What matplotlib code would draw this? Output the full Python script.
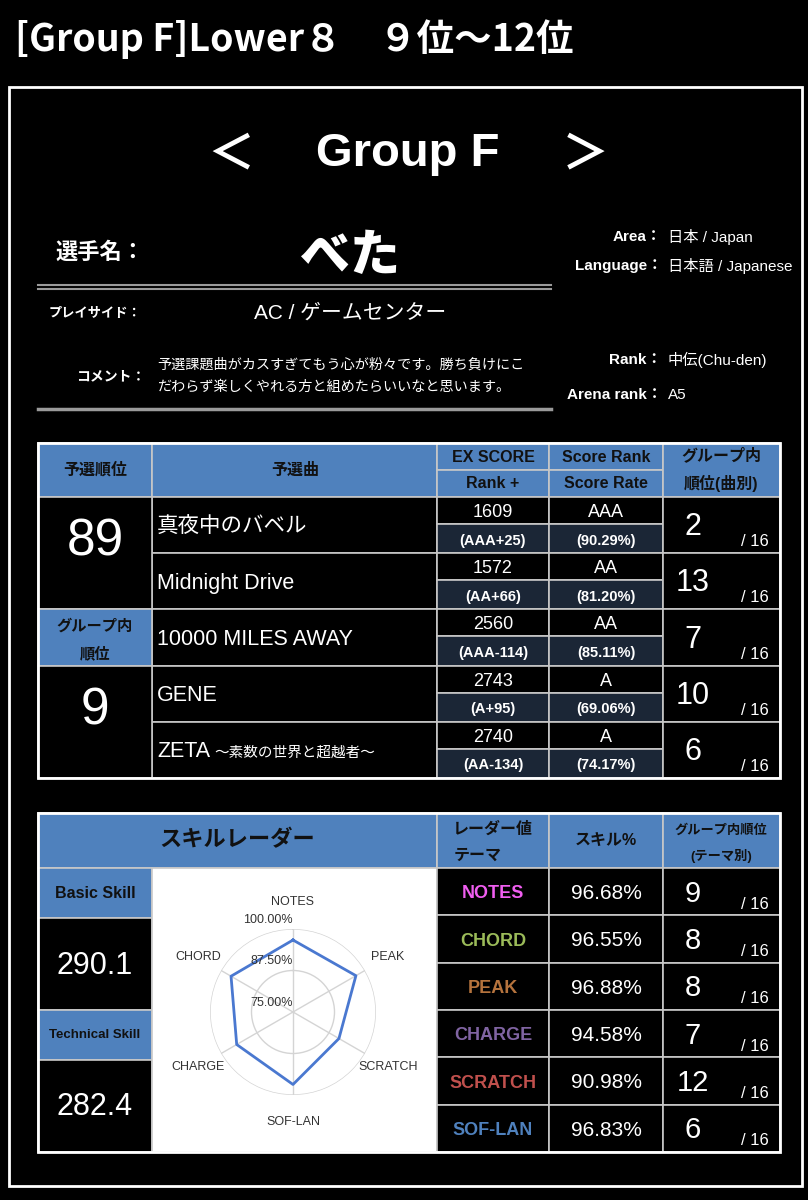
import matplotlib.pyplot as plt
from matplotlib.patches import Rectangle
import numpy as np

plt.rcParams['font.family'] = ['Liberation Sans', 'Noto Sans CJK JP', 'DejaVu Sans']

# ---- data ----
title_text = "[Group F]Lower８　９位～12位"
group_name = "Group F"
player = "べた"
play_side = "AC / ゲームセンター"
comment_lines = ["予選課題曲がカスすぎてもう心が粉々です。勝ち負けにこ",
                 "だわらず楽しくやれる方と組めたらいいなと思います。"]
info_labels = ["Area：", "Language：", "Rank：", "Arena rank："]
info_values = ["日本 / Japan", "日本語 / Japanese", "中伝(Chu-den)", "A5"]

prelim_rank = 89
group_rank = 9
group_size = 16

songs = ["真夜中のバベル", "Midnight Drive", "10000 MILES AWAY", "GENE", "ZETA"]
song_subtitles = ["", "", "", "", "～素数の世界と超越者～"]
ex_scores = [1609, 1572, 2560, 2743, 2740]
rank_plus = ["AAA+25", "AA+66", "AAA-114", "A+95", "AA-134"]
score_ranks = ["AAA", "AA", "AA", "A", "A"]
score_rates = [90.29, 81.20, 85.11, 69.06, 74.17]
song_group_ranks = [2, 13, 7, 10, 6]

basic_skill = 290.1
technical_skill = 282.4
themes = ["NOTES", "CHORD", "PEAK", "CHARGE", "SCRATCH", "SOF-LAN"]
skill_pct = [96.68, 96.55, 96.88, 94.58, 90.98, 96.83]
theme_ranks = [9, 8, 8, 7, 12, 6]
theme_colors = ["#f05ef0", "#9bbb59", "#b5733d", "#8064a2", "#c0504d", "#4f81bd"]
radar_order = ["NOTES", "PEAK", "SCRATCH", "SOF-LAN", "CHARGE", "CHORD"]
radar_ticks = [75.0, 87.5, 100.0]

# ---- canvas ----
W, H = 808, 1200
fig = plt.figure(figsize=(W / 100, H / 100), dpi=100, facecolor="black")
ax = fig.add_axes([0, 0, 1, 1])
ax.set_xlim(0, W)
ax.set_ylim(H, 0)
ax.axis("off")
ax.set_facecolor("black")

BLUE = "#4f81bd"
NAVY = "#1b2636"
GRID = "#c8c8c8"
DARK = "#111111"
JP = ["Noto Sans CJK JP"]


def cell(x0, y0, x1, y1, fc, ec=GRID, lw=1.2):
    ax.add_patch(Rectangle((x0, y0), x1 - x0, y1 - y0, facecolor=fc,
                           edgecolor=ec, linewidth=lw))


def txt(x, y, s, size, color="white", weight="normal", ha="center", **kw):
    ax.text(x, y + 2, s, fontsize=size, color=color, fontweight=weight,
            ha=ha, va="center", **kw)


# title and frame
txt(15, 37, title_text, 27, weight="bold", ha="left", family=JP)
ax.add_patch(Rectangle((9, 87), 793, 1099, facecolor="none",
                       edgecolor="white", linewidth=2))
txt(231, 152, "＜", 34, weight="bold", family=JP)
txt(408, 152, group_name, 34, weight="bold")
txt(585, 152, "＞", 34, weight="bold", family=JP)

# player block
txt(100, 250, "選手名：", 16, weight="bold", family=JP)
txt(350, 254, player, 36, weight="heavy", family=JP)
ax.plot([38, 551], [285, 285], color="#9a9a9a", lw=1.5)
ax.plot([38, 551], [289, 289], color="#9a9a9a", lw=1.5)
txt(95, 311, "プレイサイド：", 9.5, weight="bold", family=JP)
txt(350, 311, play_side, 15)
txt(145, 374, "コメント：", 10, weight="bold", ha="right", family=JP)
for i, line in enumerate(comment_lines):
    txt(157, 363 + i * 22, line, 10.2, ha="left", family=JP)
ax.plot([38, 551], [409, 409], color="#9a9a9a", lw=2.5)

for lab, val, y in zip(info_labels, info_values, [235, 264, 358, 393]):
    txt(662, y, lab, 11, weight="bold", ha="right")
    txt(668, y, val, 11, ha="left")

# ---- table 1 : qualifying songs ----
cx = [38, 152, 437, 549, 663, 780]
top, hdr_mid, hdr_bot = 443, 470, 497
row_h = (778 - hdr_bot) / len(songs)

cell(cx[0], top, cx[1], hdr_bot, BLUE)
cell(cx[1], top, cx[2], hdr_bot, BLUE)
for c in (2, 3):
    cell(cx[c], top, cx[c + 1], hdr_mid, BLUE)
    cell(cx[c], hdr_mid, cx[c + 1], hdr_bot, BLUE)
cell(cx[4], top, cx[5], hdr_bot, BLUE)
txt(95, 468, "予選順位", 11.5, DARK, "bold")
txt(295, 468, "予選曲", 11.5, DARK, "bold")
txt(493, 455, "EX SCORE", 11.5, DARK, "bold")
txt(493, 482, "Rank +", 11.5, DARK, "bold")
txt(606, 455, "Score Rank", 11.5, DARK, "bold")
txt(606, 482, "Score Rate", 11.5, DARK, "bold")
txt(721, 453, "グループ内", 11.5, DARK, "bold")
txt(721, 481, "順位(曲別)", 11.5, DARK, "bold")

for i, song in enumerate(songs):
    y0 = hdr_bot + i * row_h
    y1 = y0 + row_h
    ym = y0 + row_h * 0.48
    cell(cx[1], y0, cx[2], y1, "black")
    for c in (2, 3):
        cell(cx[c], y0, cx[c + 1], ym, "black")
        cell(cx[c], ym, cx[c + 1], y1, NAVY)
    cell(cx[4], y0, cx[5], y1, "black")
    txt(157, y0 + row_h * 0.5, song, 15.5, ha="left")
    if song_subtitles[i]:
        txt(214, y0 + row_h * 0.52, song_subtitles[i], 10.5, ha="left",
            family=JP)
    txt(493, (y0 + ym) / 2, str(ex_scores[i]), 13)
    txt(493, (ym + y1) / 2, "(%s)" % rank_plus[i], 10.5, weight="bold")
    txt(606, (y0 + ym) / 2, score_ranks[i], 13)
    txt(606, (ym + y1) / 2, "(%.2f%%)" % score_rates[i], 10.5, weight="bold")
    txt(693, y0 + row_h * 0.5, str(song_group_ranks[i]), 22)
    txt(755, y0 + row_h * 0.76, "/ %d" % group_size, 12)

r_mid = hdr_bot + 2 * row_h
cell(cx[0], hdr_bot, cx[1], r_mid, "black")
cell(cx[0], r_mid, cx[1], r_mid + row_h, BLUE)
cell(cx[0], r_mid + row_h, cx[1], 778, "black")
txt(95, 540, str(prelim_rank), 37)
txt(95, r_mid + 15, "グループ内", 11, DARK, "bold")
txt(95, r_mid + 42, "順位", 11, DARK, "bold")
txt(95, 709, str(group_rank), 37)
ax.add_patch(Rectangle((cx[0], top), cx[5] - cx[0], 778 - top,
                       facecolor="none", edgecolor="white", linewidth=2))

# ---- table 2 : skill radar ----
t2_top, t2_hdr = 813, 868
t2_bot = 1152
cell(cx[0], t2_top, cx[2], t2_hdr, BLUE)
for c in (2, 3, 4):
    cell(cx[c], t2_top, cx[c + 1], t2_hdr, BLUE)
txt(237, 839, "スキルレーダー", 16, DARK, "bold")
txt(493, 827, "レーダー値", 11.5, DARK, "bold")
txt(478, 853, "テーマ", 11.5, DARK, "bold")
txt(606, 839, "スキル%", 11.5, DARK, "bold")
txt(721, 828, "グループ内順位", 9.5, DARK, "bold")
txt(721, 854, "(テーマ別)", 9.5, DARK, "bold")

cell(cx[0], t2_hdr, cx[1], 918, BLUE)
cell(cx[0], 918, cx[1], 1010, "black")
cell(cx[0], 1010, cx[1], 1060, BLUE)
cell(cx[0], 1060, cx[1], t2_bot, "black")
txt(95, 891, "Basic Skill", 11.5, DARK, "bold")
txt(95, 964, "%.1f" % basic_skill, 22)
txt(95, 1033, "Technical Skill", 9.5, DARK, "bold")
txt(95, 1105, "%.1f" % technical_skill, 22)
cell(cx[1], t2_hdr, cx[2], t2_bot, "white")

th = (t2_bot - t2_hdr) / len(themes)
for i, theme in enumerate(themes):
    y0 = t2_hdr + i * th
    for c in (2, 3, 4):
        cell(cx[c], y0, cx[c + 1], y0 + th, "black")
    txt(493, y0 + th * 0.5, theme, 13, theme_colors[i], "bold")
    txt(606, y0 + th * 0.5, "%.2f%%" % skill_pct[i], 15)
    txt(693, y0 + th * 0.5, str(theme_ranks[i]), 21)
    txt(755, y0 + th * 0.72, "/ %d" % group_size, 12)
ax.add_patch(Rectangle((cx[0], t2_top), cx[5] - cx[0], t2_bot - t2_top,
                       facecolor="none", edgecolor="white", linewidth=2))

# radar inset
rc_x, rc_y, rad = 293, 1012, 83
rax = fig.add_axes([(rc_x - rad) / W, (H - rc_y - rad) / H,
                    2 * rad / W, 2 * rad / H], projection="polar")
rax.set_theta_zero_location("N")
rax.set_theta_direction(-1)
rax.set_facecolor("white")
rax.set_ylim(radar_ticks[0], radar_ticks[-1])
angles = np.deg2rad(np.arange(len(radar_order)) * 360 / len(radar_order))
rax.set_xticks(angles)
rax.set_xticklabels([])
rax.set_yticks(radar_ticks[1:])
rax.set_yticklabels([])
rax.grid(color="#d4d4d4", lw=1)
rax.spines["polar"].set_visible(False)
vals = [skill_pct[themes.index(t)] for t in radar_order]
rax.plot(np.append(angles, angles[0]), vals + vals[:1], color="#4a78d0", lw=2)
for a, t in zip(angles, radar_order):
    rax.text(a, 108, t, fontsize=9, color="#333333", ha="center",
             va="center", clip_on=False)
for v in radar_ticks:
    rax.text(0, v + 2.8, "%.2f%%" % v, fontsize=9, color="#333333",
             ha="right", va="center", clip_on=False)

fig.savefig("out.png", dpi=100, facecolor="black")
